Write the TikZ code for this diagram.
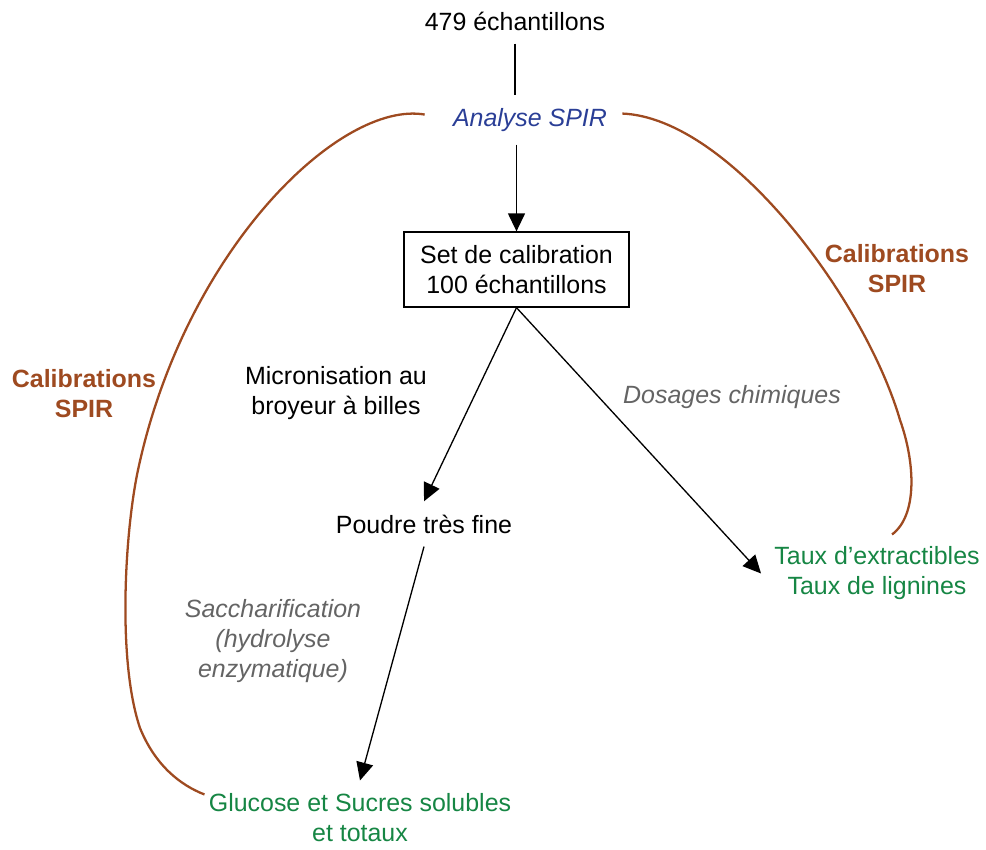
\documentclass[tikz,border=0pt]{standalone}
\usepackage{fontspec}
\setmainfont{Liberation Sans}
\usetikzlibrary{arrows.meta}
\definecolor{spircol}{RGB}{158,74,32}
\definecolor{analcol}{RGB}{42,62,150}
\definecolor{rescol}{RGB}{22,134,68}
\definecolor{stepcol}{RGB}{100,100,100}
\newcommand\diafont{\fontsize{14.2}{17.1}\selectfont}
\tikzset{
  txt/.style    = {align=center, inner sep=0.26cm, font=\diafont},
  setbox/.style = {draw, line width=0.75pt, minimum width=4.5cm,
                   minimum height=1.5cm, inner sep=0pt, align=center,
                   font=\diafont},
  result/.style = {txt, text=rescol},
  method/.style = {txt, text=stepcol, font=\diafont\itshape},
  callab/.style = {txt, text=spircol, font=\diafont\bfseries},
  flow/.style   = {-{Triangle[length=0.36cm, width=0.34cm]}, line width=0.75pt},
  link/.style   = {line width=0.75pt},
  calib/.style  = {draw=spircol, line width=1.3pt},
}
\begin{document}
\begin{tikzpicture}[x=0.02cm, y=-0.02cm]
  \useasboundingbox (0,0) rectangle (986,849);

  \node[txt, anchor=base] (n479) at (515,30) {479 échantillons};
  \node[txt, anchor=base, text=analcol, font=\diafont\itshape] (analyse) at (530,126) {Analyse SPIR};
  \node[setbox] (calset) at (516.5,269.5) {Set de calibration\\100 échantillons};
  \node[txt] (micro) at (336,393.5) {Micronisation au\\broyeur à billes};
  \node[txt, anchor=base] (poudre) at (424,533) {Poudre très fine};
  \node[method] (sacch) at (273,641) {Saccharification\\(hydrolyse\\enzymatique)};
  \node[result] (glucose) at (360,818) {Glucose et Sucres solubles\\et totaux};
  \node[method, anchor=base] (dosages) at (732,403) {Dosages chimiques};
  \node[result] (taux) at (877,573.5) {Taux d’extractibles\\Taux de lignines};
  \node[callab] (calL) at (84,394) {Calibrations\\SPIR};
  \node[callab] (calR) at (897,268.5) {Calibrations\\SPIR};

  \draw[link] (n479.south) -- (n479.south |- analyse.north);
  \draw[flow] (calset.north |- analyse.south) -- (calset.north);
  \foreach \a/\b in {calset.south/poudre.north, calset.south/taux.west, poudre.south/glucose.north}
    \draw[flow] (\a) -- (\b);

  % boucles de calibration
  \draw[calib] ([shift={(-15,-5)}]analyse.west) .. controls (340,100) and (185,250) .. (138,470)
    .. controls (125,531) and (117,660) .. (140,728)
    .. controls (155,765) and (180,785) .. ([shift={(9,14)}]glucose.north west);
  \draw[calib] ([shift={(2,-6)}]analyse.east) .. controls (730,118) and (865,300) .. (900,420)
    .. controls (915,462) and (918,515) .. ([shift={(15,1)}]taux.north);
\end{tikzpicture}
\end{document}
